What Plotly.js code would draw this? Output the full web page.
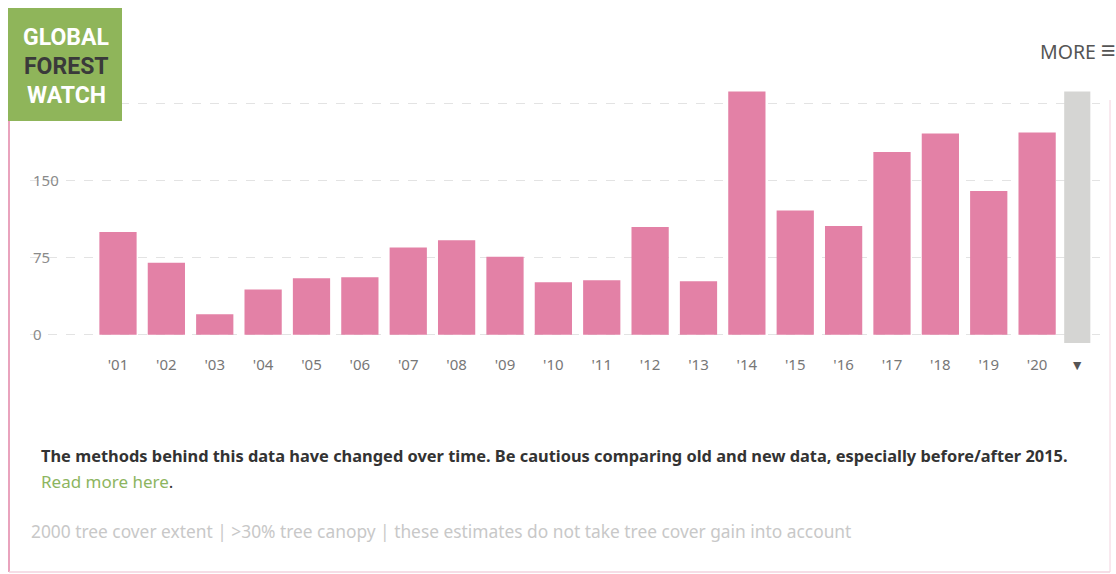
<!DOCTYPE html>
<html>
<head>
<meta charset="utf-8">
<script src="https://cdn.plot.ly/plotly-3.0.1.min.js"></script>
<style>
  html, body { margin: 0; padding: 0; background: #ffffff; }
  #chart { width: 1116px; height: 574px; }
</style>
</head>
<body>
<div id="chart"></div>
<script>
// Annual tree cover loss (kha), 2001–2020
const years = [1, 2, 3, 4, 5, 6, 7, 8, 9, 10, 11, 12, 13, 14, 15, 16, 17, 18, 19, 20];
const yearLabels = ["'01", "'02", "'03", "'04", "'05", "'06", "'07", "'08", "'09", "'10",
                    "'11", "'12", "'13", "'14", "'15", "'16", "'17", "'18", "'19", "'20"];
const treeCoverLoss = [100, 70, 20, 44, 55, 56, 85, 92, 76, 51,
                       53, 105, 52, 237, 121, 106, 178, 196, 140, 197];

// Grey selector column at the right end of the timeline
const selectorPos = [20.83];
const selectorBase = [-8];
const selectorHeight = [245];
const selectorLabel = ["▼"];

// Gridlines every 75; the top label sits under the logo tile
const yTicks = [0, 75, 150, 225];
const yTickText = ["0", "75", "150", ""];

// Plot-area box in pixels, used to place the page furniture in paper units
const L = 30, R = 1100, T = 84, B = 345;
const px = x => (x - L) / (R - L);
const py = y => (B - y) / (B - T);

const FONT = "Noto Sans, Open Sans, sans-serif";
const LOGO_FONT = "Roboto, Liberation Sans, sans-serif";

const bars = {
  type: 'bar',
  x: years,
  y: treeCoverLoss,
  width: 0.77,
  marker: { color: '#e381a6' },
  hoverinfo: 'y',
  showlegend: false
};

const selector = {
  type: 'bar',
  x: selectorPos,
  y: selectorHeight,
  base: selectorBase,
  width: 0.54,
  marker: { color: '#d5d5d3' },
  hoverinfo: 'skip',
  showlegend: false
};

const layout = {
  width: 1116,
  height: 574,
  margin: { l: L, r: 1116 - R, t: T, b: 574 - B },
  paper_bgcolor: '#ffffff',
  plot_bgcolor: '#ffffff',
  barmode: 'overlay',
  font: { family: FONT, color: '#777777' },
  xaxis: {
    range: [-0.819, 21.30],
    tickvals: years.concat(selectorPos),
    ticktext: yearLabels.concat(selectorLabel.map(t => '<span style="font-size:14px;color:#555555">' + t + '</span>')),
    ticks: 'outside',
    ticklen: 6,
    tickcolor: 'rgba(0,0,0,0)',
    tickfont: { size: 15, color: '#777777', family: FONT },
    showgrid: false,
    zeroline: false,
    showline: false,
    fixedrange: true
  },
  yaxis: {
    range: [-10, 244.2],
    tickvals: yTicks,
    ticktext: yTickText,
    ticklabelposition: 'inside',
    tickfont: { size: 15, color: '#8a8a8a', family: FONT },
    showgrid: true,
    gridcolor: '#e3e3e3',
    griddash: 'dash',
    gridwidth: 1,
    zeroline: false,
    showline: false,
    fixedrange: true
  },
  shapes: [
    // card outline
    { type: 'line', xref: 'paper', yref: 'paper', x0: px(9), x1: px(9), y0: py(118), y1: py(572),
      line: { color: '#e9a3bd', width: 2 }, layer: 'above' },
    { type: 'line', xref: 'paper', yref: 'paper', x0: px(1110), x1: px(1110), y0: py(100), y1: py(572),
      line: { color: '#f3d2de', width: 1 }, layer: 'above' },
    { type: 'line', xref: 'paper', yref: 'paper', x0: px(9), x1: px(1110), y0: py(572), y1: py(572),
      line: { color: '#f3d2de', width: 1.5 }, layer: 'above' },
    // logo tile
    { type: 'rect', xref: 'paper', yref: 'paper', x0: px(8), x1: px(122), y0: py(8), y1: py(121),
      fillcolor: '#8fb55a', line: { width: 0 }, layer: 'above' }
  ],
  annotations: [
    { text: '<b>GLOBAL</b>', xref: 'paper', yref: 'paper', x: px(66), y: py(37), xanchor: 'center', yanchor: 'middle',
      showarrow: false, font: { family: LOGO_FONT, size: 23, color: '#ffffff' } },
    { text: '<b>FOREST</b>', xref: 'paper', yref: 'paper', x: px(66), y: py(66), xanchor: 'center', yanchor: 'middle',
      showarrow: false, font: { family: LOGO_FONT, size: 23, color: '#3a3a3a' } },
    { text: '<b>WATCH</b>', xref: 'paper', yref: 'paper', x: px(66), y: py(95), xanchor: 'center', yanchor: 'middle',
      showarrow: false, font: { family: LOGO_FONT, size: 23, color: '#ffffff' } },
    { text: 'MORE <span style="font-size:25px">≡</span>', xref: 'paper', yref: 'paper', x: px(1118), y: py(49), xanchor: 'right', yanchor: 'middle',
      showarrow: false, font: { family: FONT, size: 19.5, color: '#555555' } },
    { text: '<b>The methods behind this data have changed over time. Be cautious comparing old and new data, especially before/after 2015.</b>',
      xref: 'paper', yref: 'paper', x: px(39), y: py(455), xanchor: 'left', yanchor: 'middle',
      showarrow: false, font: { family: FONT, size: 16.4, color: '#333333' } },
    { text: '<span style="color:#8db55f">Read more here</span>.',
      xref: 'paper', yref: 'paper', x: px(39), y: py(481), xanchor: 'left', yanchor: 'middle',
      showarrow: false, font: { family: FONT, size: 17, color: '#333333' } },
    { text: '2000 tree cover extent | >30% tree canopy | these estimates do not take tree cover gain into account',
      xref: 'paper', yref: 'paper', x: px(29), y: py(531), xanchor: 'left', yanchor: 'middle',
      showarrow: false, font: { family: FONT, size: 17.35, color: '#c8c8c8' } }
  ]
};

Plotly.newPlot('chart', [bars, selector], layout, { displayModeBar: false, staticPlot: true });
</script>
</body>
</html>
